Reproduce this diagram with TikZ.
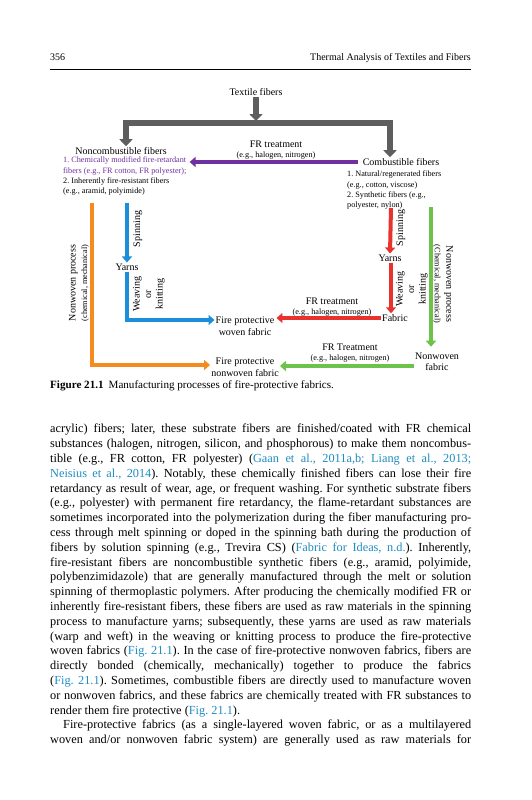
\documentclass[tikz,border=0pt]{standalone}
\usepackage{fontspec}
\setmainfont{Liberation Serif}
\usetikzlibrary{arrows.meta}
\frenchspacing

\definecolor{forkgray}{HTML}{5E5E5E}
\definecolor{frpurple}{HTML}{7030A0}
\definecolor{spinblue}{HTML}{1B8FD9}
\definecolor{spinred}{HTML}{E8322E}
\definecolor{nwgreen}{HTML}{6CC24A}
\definecolor{nworange}{HTML}{F58A1F}
\definecolor{linkblue}{HTML}{1F8DC1}

\newcommand{\figtext}{\fontsize{10}{11.5}\selectfont}
\newcommand{\figsmall}{\fontsize{8.2}{10.3}\selectfont}
\newcommand{\bodytext}{\fontsize{12.3}{14.8}\selectfont}
\newcommand{\lnk}[1]{\textcolor{linkblue}{#1}}

\begin{document}
\begin{tikzpicture}[x=1pt,y=-1pt,
  label node/.style={inner sep=1pt,font=\figtext,align=center},
  list node/.style={inner sep=0pt,font=\figsmall,align=left,anchor=north west},
  up text/.style={label node,rotate=90},
  down text/.style={label node,rotate=-90},
  grayfork/.style={draw=forkgray,line width=6pt,{Triangle[length=7pt,width=13pt]}-{Triangle[length=7pt,width=13pt]}},
  grayarrow/.style={draw=forkgray,line width=6pt,-{Triangle[length=7pt,width=13pt]},shorten >=2pt},
  flow/.style={line width=4pt,-{Triangle[length=6pt,width=10pt]}},
  flowline/.style={line width=4pt}]

  \fill[white] (0,0) rectangle (531,800);
  \useasboundingbox (0,0) rectangle (531,800);

  % running head
  \node[anchor=base west,inner sep=0pt,font=\figtext] (pageno) at (50,61) {356};
  \node[anchor=base east,inner sep=0pt,font=\figtext] (runhead) at (471,61) {Thermal Analysis of Textiles and Fibers};
  \draw[line width=0.8pt] (50,69) -- (471,69);

  % fibers
  \node[label node] (textile) at (256,92) {Textile fibers};
  \coordinate (fork) at (256,123);
  \coordinate (forkL) at (126,123);
  \coordinate (forkR) at (390,123);
  \node[label node] (noncomb) at (121,151) {Noncombustible fibers};
  \node[label node] (comb) at (401,162) {Combustible fibers};
  \node[list node] (ncList) at (63,157) {\textcolor{frpurple}{1. Chemically modified fire-retardant}\\
    \textcolor{frpurple}{fibers (e.g., FR cotton, FR polyester);}\\
    2. Inherently fire-resistant fibers\\
    (e.g., aramid, polyimide)};
  \node[list node] (cList) at (347,171) {1. Natural/regenerated fibers\\
    (e.g., cotton, viscose)\\
    2. Synthetic fibers (e.g.,\\
    polyester, nylon)};
  \node[label node] (frTop) at (276,150) {FR treatment\\[-2pt]{\figsmall (e.g., halogen, nitrogen)}};

  \draw[grayarrow] (textile) -- (fork);
  \draw[grayfork] (forkL |- noncomb.north) -- (forkL) -- (forkR) -- (forkR |- comb.north);
  \draw[flow,frpurple] ([xshift=-4pt]comb.west) -- ([xshift=3pt]comb.west -| ncList.east);

  % woven route, noncombustible
  \coordinate (blueTop) at (127,203);
  \node[label node] (yarnsL) at (127,267) {Yarns};
  \node[up text] (spinL) at (138,229) {Spinning};
  \node[up text] (weaveL) at (149,294) {Weaving\\or\\knitting};
  \node[label node] (wovenFab) at (245,326) {Fire protective\\woven fabric};
  \draw[flow,spinblue] (blueTop) -- (yarnsL.north);
  \draw[flow,spinblue] (yarnsL.south) |- ([yshift=6pt]wovenFab.west);

  % woven route, combustible
  \coordinate (redTop) at (391,208);
  \node[label node] (yarnsR) at (390,258) {Yarns};
  \node[up text] (spinR) at (401,228) {Spinning};
  \node[up text] (weaveR) at (412,289) {Weaving\\or\\knitting};
  \node[label node] (fabricR) at (395,318) {Fabric};
  \node[label node] (frMid) at (332,307) {FR treatment\\[-2pt]{\figsmall (e.g., halogen, nitrogen)}};
  \draw[flow,spinred] (redTop) -- (yarnsR.north);
  \draw[flow,spinred] (yarnsR.south -| redTop) -- (fabricR.north -| redTop);
  \draw[flow,spinred] (fabricR.west) -- ([xshift=1pt]fabricR.west -| wovenFab.east);

  % nonwoven routes
  \coordinate (orangeTop) at (92,203);
  \coordinate (greenTop) at (431,207);
  \node[up text] (nwProcL) at (79,283) {Nonwoven process\\{\figsmall (chemical, mechanical)}};
  \node[down text] (nwProcR) at (443,284) {Nonwoven process\\{\figsmall (Chemical, mechanical)}};
  \node[label node] (nwFab) at (437,362) {Nonwoven\\fabric};
  \node[label node] (nwovenFab) at (245,367) {Fire protective\\nonwoven fabric};
  \node[label node] (frBot) at (350,353) {FR Treatment\\[-2pt]{\figsmall (e.g., halogen, nitrogen)}};
  \draw[flow,nworange] (orangeTop) |- ([yshift=2pt]nwovenFab.west);
  \draw[flow,nwgreen] (greenTop) -- ([yshift=5pt]greenTop |- nwFab.north);
  \draw[flow,nwgreen] ([yshift=-4pt]nwFab.west) -- ([yshift=-4pt]nwFab.west -| nwovenFab.east);

  % caption
  \node[anchor=base west,inner sep=0pt,font=\fontsize{11.1}{13}\selectfont] (caption) at (50,388)
    {\textbf{Figure 21.1}\hspace{5pt}Manufacturing processes of fire-protective fabrics.};

  % body text
  \node[anchor=north west,inner sep=0pt,text width=421pt,align=justify,font=\bodytext] (body) at (50,424) {%
acrylic) fibers; later, these substrate fibers are finished/coated with FR chemical\linebreak
substances (halogen, nitrogen, silicon, and phosphorous) to make them noncombus-\linebreak
tible (e.g., FR cotton, FR polyester) (\lnk{Gaan et al., 2011a,b; Liang et al., 2013;}\linebreak
\lnk{Neisius et al., 2014}). Notably, these chemically finished fibers can lose their fire\linebreak
retardancy as result of wear, age, or frequent washing. For synthetic substrate fibers\linebreak
(e.g., polyester) with permanent fire retardancy, the flame-retardant substances are\linebreak
sometimes incorporated into the polymerization during the fiber manufacturing pro-\linebreak
cess through melt spinning or doped in the spinning bath during the production of\linebreak
fibers by solution spinning (e.g., Trevira CS) (\lnk{Fabric for Ideas, n.d.}). Inherently,\linebreak
fire-resistant fibers are noncombustible synthetic fibers (e.g., aramid, polyimide,\linebreak
polybenzimidazole) that are generally manufactured through the melt or solution\linebreak
spinning of thermoplastic polymers. After producing the chemically modified FR or\linebreak
inherently fire-resistant fibers, these fibers are used as raw materials in the spinning\linebreak
process to manufacture yarns; subsequently, these yarns are used as raw materials\linebreak
(warp and weft) in the weaving or knitting process to produce the fire-protective\linebreak
woven fabrics (\lnk{Fig. 21.1}). In the case of fire-protective nonwoven fabrics, fibers are\linebreak
directly bonded (chemically, mechanically) together to produce the fabrics\linebreak
(\lnk{Fig. 21.1}). Sometimes, combustible fibers are directly used to manufacture woven\linebreak
or nonwoven fabrics, and these fabrics are chemically treated with FR substances to\linebreak
render them fire protective (\lnk{Fig. 21.1}).\par
\hspace*{13pt}Fire-protective fabrics (as a single-layered woven fabric, or as a multilayered\linebreak
woven and/or nonwoven fabric system) are generally used as raw materials for\linebreak};
\end{tikzpicture}
\end{document}
